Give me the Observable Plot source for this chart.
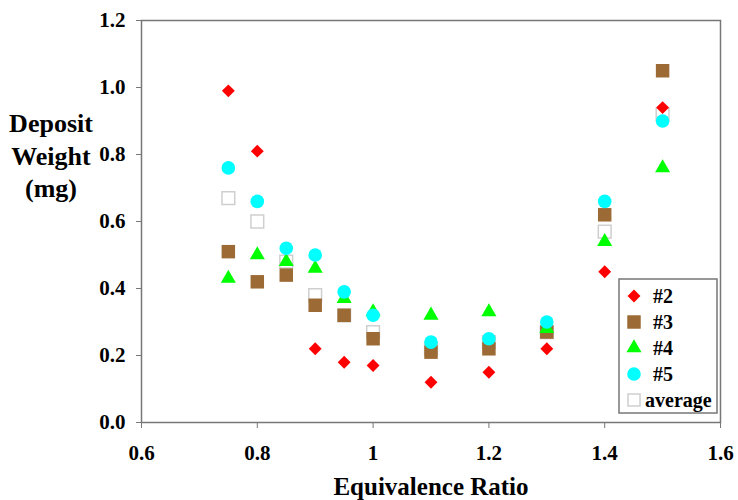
<!DOCTYPE html>
<html>
<head>
<meta charset="utf-8">
<script src="https://cdn.jsdelivr.net/npm/d3@7"></script>
<script src="https://cdn.jsdelivr.net/npm/@observablehq/plot@0.6"></script>
<style>
  html, body { margin: 0; padding: 0; background: #fff; }
  #chart { position: relative; width: 738px; height: 500px; }
  #chart svg text { font-family: "Liberation Serif", "Times New Roman", Times, "DejaVu Serif", serif; font-weight: bold; }
</style>
</head>
<body>
<div id="chart"></div>
<script>
// Equivalence ratio (x)
const ratios = [0.75, 0.8, 0.85, 0.9, 0.95, 1.0, 1.1, 1.2, 1.3, 1.4, 1.5];
// Deposit weight (mg) per sample
const s2  = [0.99, 0.81, null, 0.22, 0.18, 0.17, 0.12, 0.15, 0.22, 0.45, 0.94];
const s3  = [0.51, 0.42, 0.44, 0.35, 0.32, 0.25, 0.21, 0.22, 0.27, 0.62, 1.05];
const s4  = [0.43, 0.50, 0.48, 0.46, 0.37, 0.33, 0.32, 0.33, 0.28, 0.54, 0.76];
const s5  = [0.76, 0.66, 0.52, 0.50, 0.39, 0.32, 0.24, 0.25, 0.30, 0.66, 0.90];
const avg = [0.67, 0.60, 0.48, 0.38, 0.32, 0.27, 0.22, 0.24, 0.27, 0.57, 0.92];

const xTicks = [0.6, 0.8, 1, 1.2, 1.4, 1.6];
const yTicks = [0, 0.2, 0.4, 0.6, 0.8, 1.0, 1.2];
const seriesNames = ["#2", "#3", "#4", "#5", "average"];

const toRows = (vals) => ratios.map((x, i) => ({x, y: vals[i]})).filter(d => d.y != null);

const font = "Liberation Serif";

const plot = Plot.plot({
  width: 738,
  height: 500,
  marginLeft: 141,
  marginRight: 18,
  marginTop: 20,
  marginBottom: 78,
  style: {fontFamily: font, fontWeight: "bold", fontSize: "21px", color: "#000", background: "#fff"},
  x: {domain: [0.6, 1.6], label: null},
  y: {domain: [0, 1.2], label: null},
  marks: [
    Plot.frame({stroke: "#777", strokeWidth: 1.5}),
    Plot.axisX({ticks: xTicks, tickFormat: d => String(d), tickSize: 6, tickPadding: 17, stroke: "#777", label: null}),
    Plot.axisY({ticks: yTicks, tickFormat: d3.format(".1f"), tickSize: 5, tickPadding: 11, stroke: "#777", label: null}),
    Plot.dot(toRows(avg), {x: "x", y: "y", symbol: "square", r: 7.2, fill: "#fff", stroke: "#cfcfcf", strokeWidth: 1.5}),
    Plot.dot(toRows(s2), {x: "x", y: "y", symbol: "diamond2", r: 5.8, fill: "#ff0000", stroke: "none"}),
    Plot.dot(toRows(s3), {x: "x", y: "y", symbol: "square", r: 7.6, fill: "#9c6a34", stroke: "none"}),
    Plot.dot(toRows(s4), {x: "x", y: "y", symbol: "triangle", r: 5.6, fill: "#00ff00", stroke: "none"}),
    Plot.dot(toRows(s5), {x: "x", y: "y", symbol: "circle", r: 6.8, fill: "#00ffff", stroke: "none"})
  ]
});

document.getElementById("chart").appendChild(plot);

const svg = d3.select(plot);

// Y-axis title (three lines)
const yTitle = svg.append("text")
  .attr("text-anchor", "middle")
  .attr("font-size", 26)
  .attr("fill", "#000");
["Deposit", "Weight", "(mg)"].forEach((t, i) => {
  yTitle.append("tspan").attr("x", 51).attr("y", 132 + i * 32.5).text(t);
});

// X-axis title
svg.append("text")
  .attr("x", 431).attr("y", 495)
  .attr("text-anchor", "middle")
  .attr("font-size", 25)
  .attr("fill", "#000")
  .text("Equivalence Ratio");

// Legend
const legend = svg.append("g");
legend.append("rect")
  .attr("x", 619).attr("y", 279).attr("width", 98).attr("height", 134)
  .attr("fill", "#fff").attr("stroke", "#777").attr("stroke-width", 1.5);
const legendStyles = [
  {sym: d3.symbolDiamond2, r: 5.8, fill: "#ff0000", stroke: "none"},
  {sym: d3.symbolSquare, r: 7.6, fill: "#9c6a34", stroke: "none"},
  {sym: d3.symbolTriangle, r: 5.6, fill: "#00ff00", stroke: "none"},
  {sym: d3.symbolCircle, r: 6.8, fill: "#00ffff", stroke: "none"},
  {sym: d3.symbolSquare, r: 6.8, fill: "#fff", stroke: "#cfcfcf"}
];
seriesNames.forEach((name, i) => {
  const cy = 296 + i * 26;
  const st = legendStyles[i];
  legend.append("path")
    .attr("transform", `translate(${634},${cy})`)
    .attr("d", d3.symbol(st.sym, st.r * st.r * Math.PI)())
    .attr("fill", st.fill).attr("stroke", st.stroke).attr("stroke-width", 1.5);
  legend.append("text")
    .attr("x", name === "average" ? 645 : 653).attr("y", cy + 7)
    .attr("text-anchor", "start")
    .attr("font-size", 20)
    .attr("fill", "#000")
    .text(name);
});
</script>
</body>
</html>
